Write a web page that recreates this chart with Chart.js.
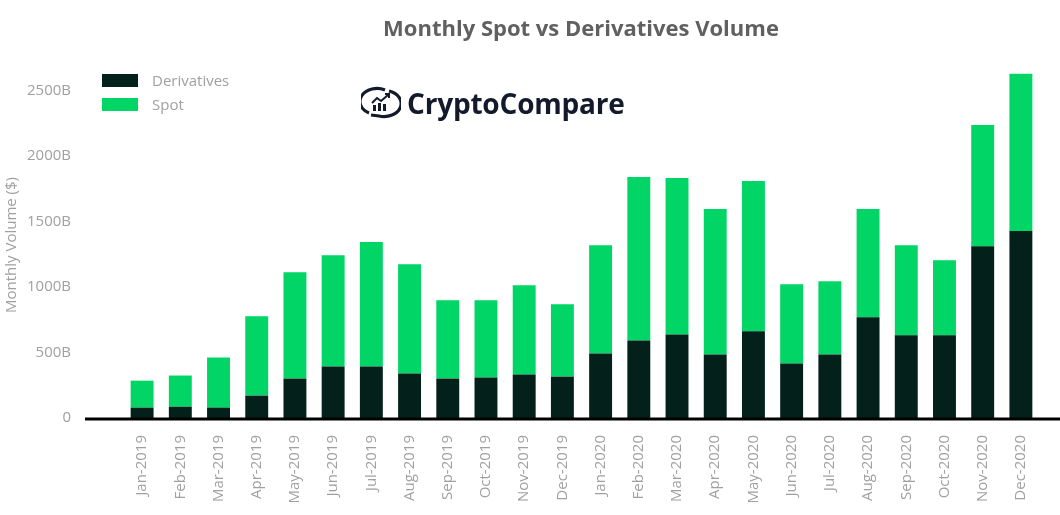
<!DOCTYPE html>
<html>
<head>
<meta charset="utf-8">
<script src="https://cdn.jsdelivr.net/npm/chart.js@4.4.1/dist/chart.umd.min.js"></script>
<style>
  html, body { margin: 0; padding: 0; background: #ffffff; }
  #wrap { position: relative; width: 1060px; height: 515px; overflow: hidden; font-family: "Open Sans", sans-serif; }
  #c { position: absolute; left: 0; top: 0; }
  #title { position: absolute; left: 0; top: 12px; width: 1162px; text-align: center; font-weight: 700; font-size: 22px; color: #606060; }
  #legend { position: absolute; left: 102px; top: 68px; font-size: 15px; color: #a0a0a0; }
  .li { display: flex; align-items: center; height: 24px; }
  .sw { width: 36px; height: 13px; margin-right: 14px; }
  #logo { position: absolute; left: 361px; top: 84px; display: flex; align-items: center; }
  #logo span { font-weight: 700; font-size: 28px; color: #121a2b; margin-left: 6px; letter-spacing: -0.2px; }
</style>
</head>
<body>
<div id="wrap">
  <canvas id="c" width="1060" height="515"></canvas>
  <div id="title">Monthly Spot vs Derivatives Volume</div>
  <div id="legend"></div>
  <div id="logo">
    <svg width="40" height="34" viewBox="0 0 40 34">
      <path d="M8 27 A17 13 0 0 1 24 4" fill="none" stroke="#121a2b" stroke-width="3.2"/>
      <path d="M28 5 A17 13 0 0 1 18 30 L10 29" fill="none" stroke="#121a2b" stroke-width="3.2"/>
      <rect x="12" y="19" width="3" height="6" fill="#121a2b"/>
      <rect x="17" y="17" width="3" height="8" fill="#121a2b"/>
      <rect x="22" y="18" width="3" height="7" fill="#121a2b"/>
      <path d="M11 17 L16 12 L20 15 L27 9" fill="none" stroke="#121a2b" stroke-width="2"/>
      <path d="M24 8 L28 8 L28 12" fill="none" stroke="#121a2b" stroke-width="2"/>
    </svg>
    <span>CryptoCompare</span>
  </div>
</div>
<script>
const categories = ["Jan-2019","Feb-2019","Mar-2019","Apr-2019","May-2019","Jun-2019","Jul-2019","Aug-2019","Sep-2019","Oct-2019","Nov-2019","Dec-2019","Jan-2020","Feb-2020","Mar-2020","Apr-2020","May-2020","Jun-2020","Jul-2020","Aug-2020","Sep-2020","Oct-2020","Nov-2020","Dec-2020"];
const derivatives = [79, 86, 79, 171, 301, 393, 393, 339, 301, 309, 332, 316, 493, 592, 638, 485, 661, 416, 485, 768, 631, 631, 1311, 1426];
const spot = [206, 238, 383, 605, 811, 849, 949, 834, 597, 589, 680, 551, 825, 1247, 1193, 1109, 1147, 604, 558, 826, 687, 572, 925, 1200];
const yTicks = [0, 500, 1000, 1500, 2000, 2500];
const seriesNames = ["Derivatives", "Spot"];
const seriesColors = ["#03201b", "#00d565"];

const legend = document.getElementById('legend');
seriesNames.forEach((n, i) => {
  const d = document.createElement('div'); d.className = 'li';
  d.innerHTML = '<div class="sw" style="background:' + seriesColors[i] + '"></div><div>' + n + '</div>';
  legend.appendChild(d);
});

const baseline = {
  id: 'baseline',
  afterDatasetsDraw(chart) {
    const ctx = chart.ctx, y = chart.scales.y.getPixelForValue(0);
    ctx.save();
    ctx.strokeStyle = '#000'; ctx.lineWidth = 3;
    ctx.beginPath(); ctx.moveTo(85, y + 1); ctx.lineTo(1060, y + 1); ctx.stroke();
    ctx.restore();
  }
};

const font = { family: '"Open Sans", sans-serif', size: 15 };
new Chart(document.getElementById('c'), {
  type: 'bar',
  data: {
    labels: categories,
    datasets: [
      { label: seriesNames[0], data: derivatives, backgroundColor: seriesColors[0] },
      { label: seriesNames[1], data: spot, backgroundColor: seriesColors[1] }
    ]
  },
  options: {
    responsive: false, animation: false,
    layout: { padding: { top: 72, right: 20, left: 0, bottom: 0 } },
    categoryPercentage: 1, barPercentage: 0.6,
    plugins: { legend: { display: false }, tooltip: { enabled: false } },
    scales: {
      x: {
        stacked: true,
        grid: { display: false }, border: { display: false },
        ticks: { color: '#a0a0a0', font: font, minRotation: 90, maxRotation: 90, padding: 9, autoSkip: false },
        afterFit(s) { s.height = 97; }
      },
      y: {
        stacked: true, min: 0, max: 2640,
        grid: { display: false }, border: { display: false },
        afterBuildTicks(s) { s.ticks = yTicks.map(v => ({ value: v })); },
        ticks: { color: '#a0a0a0', font: font, padding: 44, callback: v => v === 0 ? '0' : v + 'B' },
        title: { display: true, text: 'Monthly Volume ($)', color: '#a0a0a0', font: { family: '"Open Sans", sans-serif', size: 15 }, padding: { top: 3, bottom: 0 } },
        afterFit(s) { s.width = 123; }
      }
    }
  },
  plugins: [baseline]
});
</script>
</body>
</html>
